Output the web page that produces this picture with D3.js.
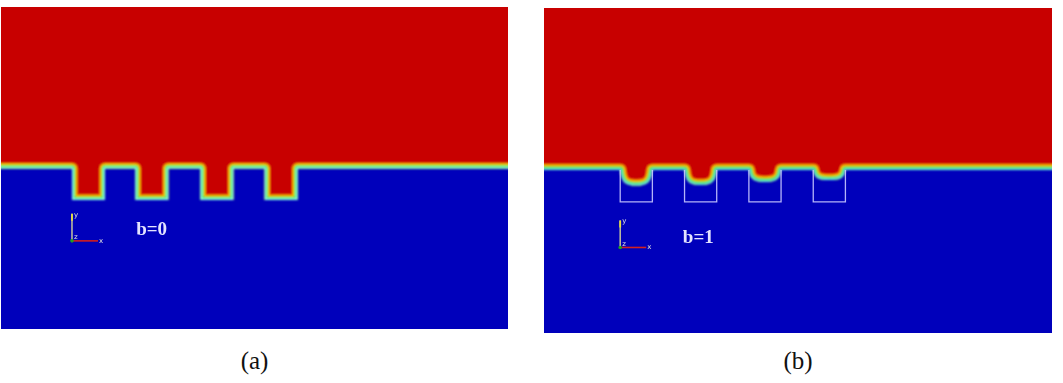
<!DOCTYPE html>
<html>
<head>
<meta charset="utf-8">
<script src="https://cdn.jsdelivr.net/npm/d3@7"></script>
<style>
  html, body { margin: 0; padding: 0; background: #ffffff; }
  svg { display: block; }
</style>
</head>
<body>
<svg id="chart" width="1063" height="383"></svg>
<script>
// ---------------- data (simulation lattice units) ----------------
const panelIds      = ["a", "b"];
const captions      = ["(a)", "(b)"];
const slipLabels    = ["b=0", "b=1"];
const domainX       = [0, 300];
const domainY       = [0, 190];
const interfaceLevel = [94.7, 95.3];          // liquid-gas interface height
const grooveStartsA = [42, 79.5, 118, 156];   // groove left walls, panel (a)
const grooveStartsB = [45, 83, 121, 159];     // groove left walls, panel (b)
const grooveWidth   = [19.5, 19];
const grooveBottom  = [76.1, 76.6];
const fillLevelA    = [76.1, 76.1, 76.1, 76.1];   // liquid fully fills grooves (b=0)
const fillLevelB    = [86.2, 86.5, 88.3, 89.4];   // meniscus bottom (b=1)
const triadOrigin   = [[42, 52], [45, 50]];       // coordinate triad origin

// ---------------- layout ----------------
const panelBoxes = [
  { x0: 1,   x1: 508,  y0: 7, y1: 329 },
  { x0: 544, x1: 1052, y0: 8, y1: 333 }
];
const RED = "#c80000", BLUE = "#0000bb";
const SERIF = "'Liberation Serif', 'Times New Roman', Times, serif";

const svg = d3.select("#chart");
const defs = svg.append("defs");
defs.append("filter").attr("id", "soft")
  .attr("x", "-5%").attr("y", "-5%").attr("width", "110%").attr("height", "110%")
  .append("feGaussianBlur").attr("stdDeviation", 1.0);
defs.append("filter").attr("id", "softText")
  .append("feGaussianBlur").attr("stdDeviation", 0.35);

const grooveSets = [grooveStartsA, grooveStartsB];
const fillSets = [fillLevelA, fillLevelB];

panelIds.forEach((id, i) => {
  const box = panelBoxes[i];
  const x = d3.scaleLinear().domain(domainX).range([box.x0, box.x1]);
  const y = d3.scaleLinear().domain(domainY).range([box.y1, box.y0]);
  const L = interfaceLevel[i];
  const w = grooveWidth[i];

  // liquid (red) region outline
  const p = d3.path();
  p.moveTo(x(-30), y(240));
  p.lineTo(x(-30), y(L));
  grooveSets[i].forEach((g, k) => {
    const m = fillSets[i][k];
    p.lineTo(x(g), y(L));
    if (i === 0) {
      p.lineTo(x(g), y(m));
      p.lineTo(x(g + w), y(m));
      p.lineTo(x(g + w), y(L));
    } else {
      const c = g + w / 2;
      p.bezierCurveTo(x(g + 0.03 * w), y(m + 0.25 * (L - m)), x(g + 0.15 * w), y(m), x(c), y(m));
      p.bezierCurveTo(x(g + w - 0.15 * w), y(m), x(g + w - 0.03 * w), y(m + 0.25 * (L - m)), x(g + w), y(L));
    }
  });
  p.lineTo(x(330), y(L));
  p.lineTo(x(330), y(240));
  p.closePath();
  const liquidPath = p.toString();

  defs.append("clipPath").attr("id", "panel-" + id)
    .append("rect").attr("x", box.x0).attr("y", box.y0)
    .attr("width", box.x1 - box.x0).attr("height", box.y1 - box.y0);
  defs.append("clipPath").attr("id", "liquid-" + id)
    .append("path").attr("d", liquidPath);

  const panel = svg.append("g").attr("clip-path", `url(#panel-${id})`);
  panel.append("rect").attr("x", box.x0).attr("y", box.y0)
    .attr("width", box.x1 - box.x0).attr("height", box.y1 - box.y0)
    .attr("fill", BLUE);

  const soft = panel.append("g").attr("filter", "url(#soft)");
  const liq = soft.append("g").attr("clip-path", `url(#liquid-${id})`);
  liq.append("rect").attr("x", box.x0 - 10).attr("y", box.y0 - 10)
    .attr("width", box.x1 - box.x0 + 20).attr("height", box.y1 - box.y0 + 20)
    .attr("fill", RED);
  const bands = i === 0
    ? [[11, "#ff6a00"], [9, "#f0e000"], [6.5, "#30e040"], [3.6, "#90ffe8"]]
    : [[12, "#ff6a00"], [9.5, "#f0e000"], [7, "#30d840"], [3.6, "#70f0e0"]];
  bands.forEach(([sw, col]) => {
    liq.append("path").attr("d", liquidPath)
      .attr("fill", "none").attr("stroke", col)
      .attr("stroke-width", sw).attr("stroke-linejoin", "round");
  });

  // groove wall outlines in panel (b)
  if (i === 1) {
    const line = d3.line().x(d => x(d[0])).y(d => y(d[1]));
    panel.append("g").selectAll("path")
      .data(grooveStartsB)
      .join("path")
      .attr("d", g => line([[g, L], [g, grooveBottom[1]], [g + w, grooveBottom[1]], [g + w, L]]))
      .attr("fill", "none").attr("stroke", "#c8c8ff")
      .attr("stroke-width", 1.3).attr("opacity", 0.9);
  }

  // coordinate triad
  const [ox, oy] = triadOrigin[i];
  const tx = x(ox), ty = y(oy);
  const triad = panel.append("g").attr("filter", "url(#softText)");
  triad.append("line").attr("x1", tx).attr("y1", ty).attr("x2", tx).attr("y2", ty - 27)
    .attr("stroke", "#b8b8a0").attr("stroke-width", 1.6);
  triad.append("line").attr("x1", tx).attr("y1", ty - 27).attr("x2", tx).attr("y2", ty - 20)
    .attr("stroke", "#e8e040").attr("stroke-width", 1.8);
  triad.append("line").attr("x1", tx).attr("y1", ty).attr("x2", tx + 26).attr("y2", ty)
    .attr("stroke", "#d02020").attr("stroke-width", 1.6);
  triad.append("circle").attr("cx", tx).attr("cy", ty).attr("r", 1.8).attr("fill", "#20a020");
  const small = [["y", 2, -24], ["z", 2, -1.5], ["x", 27, 2]];
  triad.selectAll("text").data(small).join("text")
    .attr("x", d => tx + d[1]).attr("y", d => ty + d[2])
    .attr("font-family", "DejaVu Sans, sans-serif").attr("font-size", 7)
    .attr("fill", "#e0e0e0").text(d => d[0]);

  // slip label
  panel.append("text")
    .attr("x", i === 0 ? x(80) : x(82))
    .attr("y", i === 0 ? y(55.3) : y(52.5))
    .attr("font-family", SERIF).attr("font-weight", "bold")
    .attr("font-size", 19).attr("fill", "#e4e4ff")
    .attr("filter", "url(#softText)")
    .text(slipLabels[i]);

  // caption
  svg.append("text")
    .attr("x", (box.x0 + box.x1) / 2).attr("y", 369)
    .attr("text-anchor", "middle")
    .attr("font-family", SERIF).attr("font-size", 25)
    .attr("fill", "#111").text(captions[i]);
});
</script>
</body>
</html>
